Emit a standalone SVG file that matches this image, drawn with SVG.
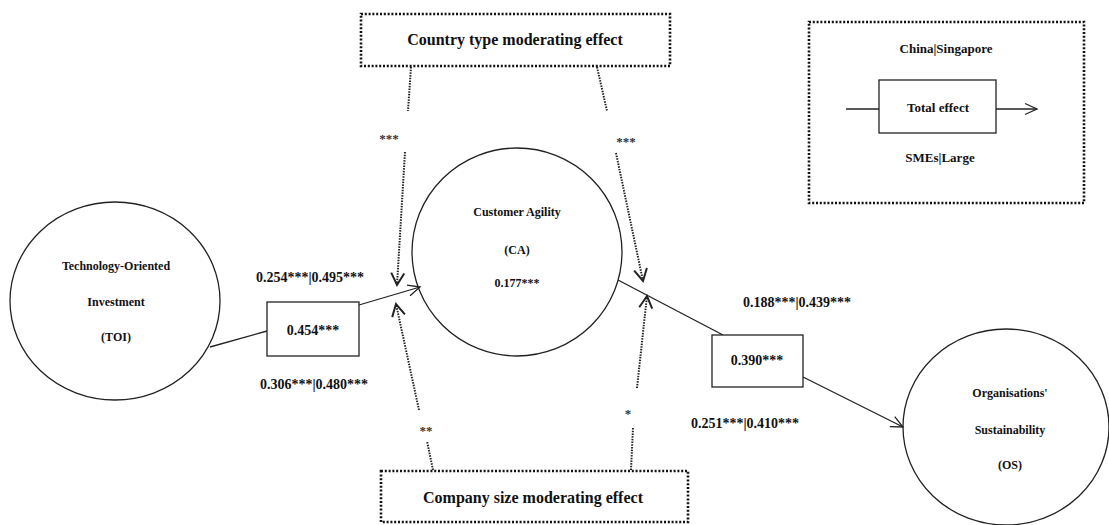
<svg xmlns="http://www.w3.org/2000/svg" width="1109" height="525" viewBox="0 0 1109 525">
<style>
text{font-family:"Liberation Serif","Times New Roman",serif;font-weight:bold;fill:#111;text-anchor:middle}
.n{font-size:12px}
.v{font-size:14px}
.t{font-size:16px}
.s{font-size:13px;fill:#333}
.solid{fill:none;stroke:#222;stroke-width:1.3}
.box{fill:#fff;stroke:#222;stroke-width:1.3}
.dot{fill:none;stroke:#222;stroke-width:2;stroke-dasharray:1.5 1.2}
.dbox{fill:#fff;stroke:#111;stroke-width:2.6;stroke-dasharray:2 1.8}
</style>
<defs>
<marker id="ah" markerUnits="userSpaceOnUse" markerWidth="16" markerHeight="16" refX="13" refY="6" orient="auto" viewBox="0 0 16 12">
<path d="M1,0.5 L13,6 L1,11.5" fill="none" stroke="#222" stroke-width="1.3"/>
</marker>
<marker id="ahd" markerUnits="userSpaceOnUse" markerWidth="16" markerHeight="16" refX="13" refY="7" orient="auto" viewBox="0 0 16 14">
<path d="M1,0.5 L13,7 L1,13.5" fill="none" stroke="#222" stroke-width="2"/>
</marker>
</defs>

<g id="connectors">
<line class="solid" x1="210" y1="347" x2="267" y2="331"/>
<line class="solid" x1="359" y1="305" x2="420" y2="287" marker-end="url(#ah)"/>
<line class="solid" x1="618" y1="280" x2="723" y2="335"/>
<line class="solid" x1="803" y1="377" x2="903" y2="427" marker-end="url(#ah)"/>
<line class="dot" x1="411" y1="67" x2="408" y2="111"/>
<line class="dot" x1="405" y1="152" x2="397" y2="285" marker-end="url(#ahd)"/>
<line class="dot" x1="597" y1="67" x2="607" y2="111"/>
<line class="dot" x1="616" y1="153" x2="643" y2="281" marker-end="url(#ahd)"/>
<line class="dot" x1="433" y1="470" x2="427" y2="441"/>
<line class="dot" x1="419" y1="410" x2="396" y2="304" marker-end="url(#ahd)"/>
<line class="dot" x1="631" y1="470" x2="633" y2="428"/>
<line class="dot" x1="637" y1="388" x2="647" y2="296" marker-end="url(#ahd)"/>
<text class="s" x="389" y="143">***</text>
<text class="s" x="626" y="146">***</text>
<text class="s" x="426" y="435">**</text>
<text class="s" x="628" y="418">*</text>
<text class="v" x="310" y="282">0.254***|0.495***</text>
<text class="v" x="314" y="389">0.306***|0.480***</text>
<text class="v" x="797" y="307">0.188***|0.439***</text>
<text class="v" x="745" y="428">0.251***|0.410***</text>
</g>

<g id="box-toi-ca">
<rect class="box" x="267" y="302" width="92" height="54"/>
<text class="v" x="313" y="335">0.454***</text>
</g>

<g id="box-ca-os">
<rect class="box" x="712" y="335" width="91" height="52"/>
<text class="v" x="757" y="365">0.390***</text>
</g>

<g id="node-toi">
<ellipse class="solid" cx="115" cy="301" rx="105" ry="99"/>
<text class="n" x="116" y="270">Technology-Oriented</text>
<text class="n" x="116" y="306">Investment</text>
<text class="n" x="116" y="341">(TOI)</text>
</g>

<g id="node-ca">
<ellipse class="solid" cx="517" cy="252" rx="105" ry="104"/>
<text class="n" x="517" y="216">Customer Agility</text>
<text class="n" x="517" y="254">(CA)</text>
<text class="n" x="517" y="287">0.177***</text>
</g>

<g id="node-os">
<ellipse class="solid" cx="1006" cy="427" rx="103" ry="98"/>
<text class="n" x="1010" y="397">Organisations'</text>
<text class="n" x="1010" y="434">Sustainability</text>
<text class="n" x="1010" y="469">(OS)</text>
</g>

<g id="country-box">
<rect class="dbox" x="361" y="14" width="309" height="52"/>
<text class="t" x="515" y="45">Country type moderating effect</text>
</g>

<g id="company-box">
<rect class="dbox" x="381" y="471" width="307" height="51"/>
<text class="t" x="533" y="503">Company size moderating effect</text>
</g>

<g id="legend">
<rect class="dbox" x="809" y="22" width="275" height="181"/>
<text class="n" x="946" y="53" style="font-size:13px">China|Singapore</text>
<line class="solid" x1="846" y1="109" x2="879" y2="109"/>
<line class="solid" x1="996" y1="109" x2="1037" y2="109" marker-end="url(#ah)"/>
<rect class="box" x="879" y="80" width="117" height="53"/>
<text class="n" x="938" y="112" style="font-size:13px">Total effect</text>
<text class="n" x="940" y="162" style="font-size:13px">SMEs|Large</text>
</g>
</svg>
